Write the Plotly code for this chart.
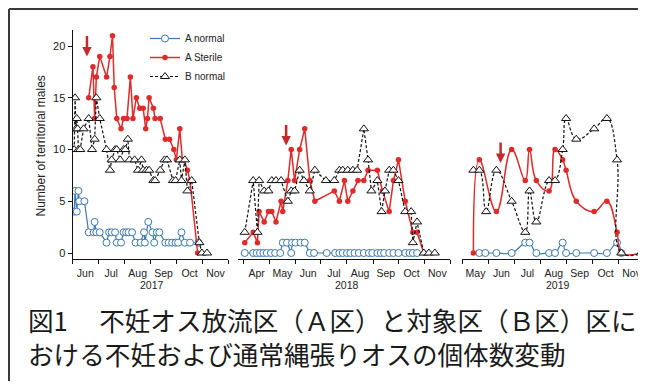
import plotly.graph_objects as go

# window is 646x389; the page puts the figure 8px in from the top-left corner,
# so the figure itself is sized to fit inside the window.
WIN_W, WIN_H = 646, 389
OFF = 8
W, H = WIN_W - OFF, WIN_H - 2 * OFF

# ---------------- data ----------------
# 2017
a_norm_2017_dates = ["2017-06-03", "2017-06-04", "2017-06-06", "2017-06-08", "2017-06-09", "2017-06-15",
                     "2017-06-20", "2017-06-26", "2017-06-27", "2017-06-29", "2017-07-03", "2017-07-11",
                     "2017-07-14", "2017-07-17", "2017-07-21", "2017-07-23", "2017-07-28", "2017-07-31",
                     "2017-08-03", "2017-08-06", "2017-08-10", "2017-08-14", "2017-08-20", "2017-08-24",
                     "2017-08-25", "2017-08-29", "2017-09-03", "2017-09-05", "2017-09-08", "2017-09-11",
                     "2017-09-18", "2017-09-22", "2017-09-26", "2017-09-30", "2017-10-03", "2017-10-07",
                     "2017-10-11", "2017-10-17", "2017-10-27"]
a_norm_2017_vals = [4, 6, 4, 6, 5, 5, 2, 2, 3, 2, 2, 1, 2, 2, 2, 1, 1, 2, 2, 2, 2, 1, 1, 2, 1, 3,
                    2, 1, 2, 2, 1, 1, 1, 1, 1, 2, 1, 1, 1]

a_ster_2017_dates = ["2017-06-20", "2017-06-25", "2017-06-27", "2017-06-29", "2017-07-03", "2017-07-11",
                     "2017-07-15", "2017-07-18", "2017-07-20", "2017-07-23", "2017-07-28", "2017-07-31",
                     "2017-08-04", "2017-08-08", "2017-08-11", "2017-08-15", "2017-08-19", "2017-08-23",
                     "2017-08-26", "2017-08-28", "2017-08-30", "2017-09-04", "2017-09-06", "2017-09-12",
                     "2017-09-18", "2017-09-23", "2017-09-28", "2017-10-01", "2017-10-05", "2017-10-08",
                     "2017-10-10", "2017-10-14", "2017-10-17", "2017-10-26"]
a_ster_2017_vals = [15, 18, 13, 17, 19, 17, 19, 21, 16, 13, 12, 13, 13, 17, 13, 15, 14, 14, 12, 13, 15,
                    14, 13, 13, 11, 11, 10, 9, 12, 9, 9, 8, 7, 0]

b_norm_2017_dates = ["2017-06-03", "2017-06-04", "2017-06-05", "2017-06-06", "2017-06-07", "2017-06-08",
                     "2017-06-10", "2017-06-14", "2017-06-20", "2017-06-24", "2017-06-27", "2017-06-29",
                     "2017-07-03", "2017-07-11", "2017-07-15", "2017-07-17", "2017-07-21", "2017-07-23",
                     "2017-07-27", "2017-07-31", "2017-08-02", "2017-08-05", "2017-08-07", "2017-08-13",
                     "2017-08-17", "2017-08-21", "2017-08-23", "2017-08-27", "2017-08-30", "2017-09-04",
                     "2017-09-06", "2017-09-12", "2017-09-17", "2017-09-20", "2017-09-27", "2017-09-30",
                     "2017-10-05", "2017-10-07", "2017-10-11", "2017-10-14", "2017-10-19", "2017-10-28",
                     "2017-10-31", "2017-11-06"]
b_norm_2017_vals = [10, 15, 12, 13, 12, 10, 10, 12, 13, 10, 11, 15, 13, 10, 8, 9, 10, 10, 9, 10, 10, 11,
                    9, 9, 8, 9, 8, 8, 8, 7, 7, 8, 9, 9, 7, 7, 9, 7, 9, 6, 7, 1, 0, 0]

# 2018
a_norm_2018_dates = ["2018-04-02", "2018-04-12", "2018-04-16", "2018-04-20", "2018-04-24", "2018-04-28",
                     "2018-05-03", "2018-05-08", "2018-05-14", "2018-05-17", "2018-05-22", "2018-05-27",
                     "2018-05-28", "2018-06-01", "2018-06-07", "2018-06-12", "2018-06-18", "2018-06-23",
                     "2018-07-08", "2018-07-18", "2018-07-23", "2018-07-27", "2018-08-01", "2018-08-05",
                     "2018-08-10", "2018-08-15", "2018-08-21", "2018-08-27", "2018-08-31", "2018-09-06",
                     "2018-09-10", "2018-09-14", "2018-09-20", "2018-09-25", "2018-10-01", "2018-10-09",
                     "2018-10-14", "2018-10-18", "2018-10-23"]
a_norm_2018_vals = [0, 0, 0, 0, 0, 0, 0, 0, 0, 1, 1, 0, 1, 1, 1, 1, 0, 0, 0, 0, 0, 0, 0, 0, 0, 0, 0, 0,
                    0, 0, 0, 0, 0, 0, 0, 0, 0, 0, 0]

a_ster_2018_dates = ["2018-04-02", "2018-04-12", "2018-04-17", "2018-04-19", "2018-04-25", "2018-04-30",
                     "2018-05-04", "2018-05-09", "2018-05-15", "2018-05-17", "2018-05-23", "2018-05-27",
                     "2018-05-31", "2018-06-06", "2018-06-12", "2018-06-18", "2018-06-24", "2018-07-17",
                     "2018-07-23", "2018-07-29", "2018-08-02", "2018-08-08", "2018-08-14", "2018-08-21",
                     "2018-08-26", "2018-09-06", "2018-09-12", "2018-09-20", "2018-09-25", "2018-10-01",
                     "2018-10-09", "2018-10-18", "2018-10-23", "2018-10-31"]
a_ster_2018_vals = [1, 2, 1, 4, 3, 4, 4, 3, 5, 4, 7, 10, 7, 10, 12, 7, 5, 6, 5, 7, 5, 6, 7, 7, 8, 8, 6,
                    4, 7, 9, 5, 2, 2, 0]

b_norm_2018_dates = ["2018-04-02", "2018-04-12", "2018-04-17", "2018-04-19", "2018-04-25", "2018-04-30",
                     "2018-05-04", "2018-05-09", "2018-05-15", "2018-05-23", "2018-05-27", "2018-05-31",
                     "2018-06-06", "2018-06-11", "2018-06-18", "2018-06-24", "2018-07-07", "2018-07-17",
                     "2018-07-23", "2018-07-27", "2018-08-02", "2018-08-08", "2018-08-13", "2018-08-21",
                     "2018-08-26", "2018-08-30", "2018-09-06", "2018-09-11", "2018-09-15", "2018-09-20",
                     "2018-09-25", "2018-10-01", "2018-10-09", "2018-10-16", "2018-10-18", "2018-10-23",
                     "2018-10-31", "2018-11-06", "2018-11-13"]
b_norm_2018_vals = [2, 7, 2, 7, 6, 6, 7, 7, 7, 5, 6, 6, 8, 7, 6, 8, 7, 7, 8, 8, 8, 8, 8, 12, 9, 6, 7,
                    4, 6, 8, 8, 7, 4, 4, 1, 3, 0, 0, 0]

# 2019
a_norm_2019_dates = ["2019-05-21", "2019-05-28", "2019-06-10", "2019-06-28", "2019-07-14", "2019-07-19",
                     "2019-07-27", "2019-08-11", "2019-08-18", "2019-08-27", "2019-08-31", "2019-09-12",
                     "2019-10-03", "2019-10-18", "2019-10-30", "2019-11-04"]
a_norm_2019_vals = [0, 0, 0, 0, 1, 1, 0, 0, 0, 1, 0, 0, 0, 0, 1, 0]

a_ster_2019_dates = ["2019-05-14", "2019-05-21", "2019-06-10", "2019-06-28", "2019-07-14", "2019-07-19",
                     "2019-07-27", "2019-08-11", "2019-08-18", "2019-08-27", "2019-08-31", "2019-09-12",
                     "2019-10-03", "2019-10-18", "2019-10-30", "2019-11-04", "2019-11-27"]
a_ster_2019_vals = [0, 9, 4, 10, 7, 10, 7, 6, 10, 9, 8, 5, 4, 5, 2, 0, 0]

b_norm_2019_dates = ["2019-05-14", "2019-05-21", "2019-05-29", "2019-06-10", "2019-06-28", "2019-07-14",
                     "2019-07-19", "2019-07-27", "2019-08-11", "2019-08-18", "2019-08-27", "2019-08-31",
                     "2019-09-12", "2019-10-03", "2019-10-18", "2019-10-30", "2019-11-04", "2019-11-27"]
b_norm_2019_vals = [8, 8, 4, 8, 5, 2, 6, 3, 7, 7, 10, 13, 11, 12, 13, 9, 0, 0]

# release arrows (date, value at arrow tip)
release_dates = ["2017-06-18", "2018-05-21", "2019-06-15"]
release_tip_vals = [19.0, 10.4, 8.7]

year_labels = ["2017", "2018", "2019"]
y_ticks = [0, 5, 10, 15, 20]
series_names = ["A normal", "A Sterile", "B normal"]
caption_lines = ["図1　 不妊オス放流区（Ａ区）と対象区（Ｂ区）区に",
                 "おける不妊および通常縄張りオスの個体数変動"]
y_title = "Number of territorial males"

# ---------------- styling ----------------
BLUE = "#3b78b4"
RED = "#e02b2b"
BLACK = "#111111"
ARROW = "#c42a2a"
FONT = "Liberation Sans, Arial, sans-serif"
TXT = "#222222"

PLOT_TOP, PLOT_BOT = 30, 259   # window pixels of the plotting band


def px_x(p):
    return (p - OFF) / W


def px_y(p):
    return (PLOT_BOT - p) / (PLOT_BOT - PLOT_TOP)


panels = [
    dict(xa="x", dom=[px_x(72.5), px_x(228.3)], rng=["2017-06-01", "2017-12-01"], spline=False,
         data=[(a_norm_2017_dates, a_norm_2017_vals), (a_ster_2017_dates, a_ster_2017_vals),
               (b_norm_2017_dates, b_norm_2017_vals)], year_x=151.7),
    dict(xa="x2", dom=[px_x(238), px_x(450)], rng=["2018-03-25", "2018-12-01"], spline=False,
         data=[(a_norm_2018_dates, a_norm_2018_vals), (a_ster_2018_dates, a_ster_2018_vals),
               (b_norm_2018_dates, b_norm_2018_vals)], year_x=347.3),
    dict(xa="x3", dom=[px_x(461.5), 1.0], rng=["2019-04-30", "2019-12-03"], spline=True,
         data=[(a_norm_2019_dates, a_norm_2019_vals), (a_ster_2019_dates, a_ster_2019_vals),
               (b_norm_2019_dates, b_norm_2019_vals)], year_x=558),
]

styles = [
    dict(line=dict(color=BLUE, width=1.2),
         marker=dict(symbol="circle", size=7, color="white", line=dict(color=BLUE, width=1))),
    dict(line=dict(color=RED, width=1.5),
         marker=dict(symbol="circle", size=5.5, color=RED, line=dict(width=0))),
    dict(line=dict(color=BLACK, width=1.2, dash="3px,2px"),
         marker=dict(symbol="triangle-up", size=8, color="white", line=dict(color=BLACK, width=1))),
]

fig = go.Figure()
for pi, p in enumerate(panels):
    for si, (d, v) in enumerate(p["data"]):
        st = styles[si]
        line = dict(st["line"])
        if p["spline"]:
            line["shape"] = "spline"
            line["smoothing"] = 1.2
        fig.add_trace(go.Scatter(
            x=d, y=v, mode="lines+markers", name=series_names[si],
            line=line, marker=st["marker"], xaxis=p["xa"], yaxis="y",
            showlegend=(pi == 0), legendrank=si,
        ))

layout_axes = {}
for i, p in enumerate(panels):
    key = "xaxis" if i == 0 else f"xaxis{i + 1}"
    layout_axes[key] = dict(
        type="date", domain=p["dom"], range=p["rng"], anchor="y",
        showline=True, linecolor=BLACK, linewidth=1,
        ticks="outside", ticklen=4, tickcolor=BLACK, tickwidth=1,
        dtick="M1", tick0="2017-01-01", tickformat="%b", ticklabelmode="period",
        showgrid=False, zeroline=False, automargin=False,
        tickfont=dict(family=FONT, size=10.5, color=TXT),
    )

fig.update_layout(
    width=W, height=H,
    margin=dict(l=0, r=0, t=PLOT_TOP - OFF, b=H - (PLOT_BOT - OFF), pad=0),
    paper_bgcolor="white", plot_bgcolor="white",
    font=dict(family=FONT, color=TXT),
    yaxis=dict(
        domain=[0, 1], range=[-0.58, 21.55], anchor="x",
        showline=True, linecolor=BLACK, linewidth=1,
        ticks="outside", ticklen=4, tickcolor=BLACK, tickwidth=1,
        tickvals=y_ticks, showgrid=False, zeroline=False, automargin=False,
        tickfont=dict(family=FONT, size=11, color=TXT),
    ),
    legend=dict(
        x=px_x(145), y=px_y(24), xanchor="left", yanchor="top",
        bgcolor="rgba(0,0,0,0)", font=dict(family=FONT, size=10, color=TXT),
        itemwidth=30, tracegroupgap=0,
    ),
    showlegend=True,
    **layout_axes,
)

annotations = []
# y-axis title
annotations.append(dict(
    x=px_x(40), y=px_y(146.5), xref="paper", yref="paper", text=y_title, textangle=-90,
    showarrow=False, xanchor="center", yanchor="middle",
    font=dict(family=FONT, size=12, color=TXT),
))
# release arrows
for i, (d, tv) in enumerate(zip(release_dates, release_tip_vals)):
    annotations.append(dict(
        x=d, y=tv, xref=panels[i]["xa"], yref="y", text="", showarrow=True,
        ax=0, ay=-22, arrowhead=2, arrowsize=0.75, arrowwidth=2.5, arrowcolor=ARROW,
    ))
# year labels
for i, yl in enumerate(year_labels):
    annotations.append(dict(
        x=px_x(panels[i]["year_x"]), y=px_y(285), xref="paper", yref="paper",
        text=yl, showarrow=False, xanchor="center", yanchor="middle",
        font=dict(family=FONT, size=10.5, color=TXT),
    ))
# caption
for j, (line_text, cy) in enumerate(zip(caption_lines, [319.5, 353])):
    annotations.append(dict(
        x=px_x(26), y=px_y(cy), xref="paper", yref="paper", text=line_text,
        showarrow=False, xanchor="left", yanchor="middle",
        font=dict(family="Noto Sans CJK JP, sans-serif", size=25.6, color="#1a1a1a"),
    ))
fig.update_layout(annotations=annotations)

# frame of the scanned figure (top and left borders)
fig.add_shape(type="line", xref="paper", yref="paper", x0=px_x(9), x1=1.0, y0=px_y(9), y1=px_y(9),
              line=dict(color="#3a3a3a", width=2))
fig.add_shape(type="line", xref="paper", yref="paper", x0=px_x(9), x1=px_x(9), y0=px_y(9),
              y1=px_y(OFF + H), line=dict(color="#3a3a3a", width=2))

fig.write_html("out.html", config={"displayModeBar": False})
